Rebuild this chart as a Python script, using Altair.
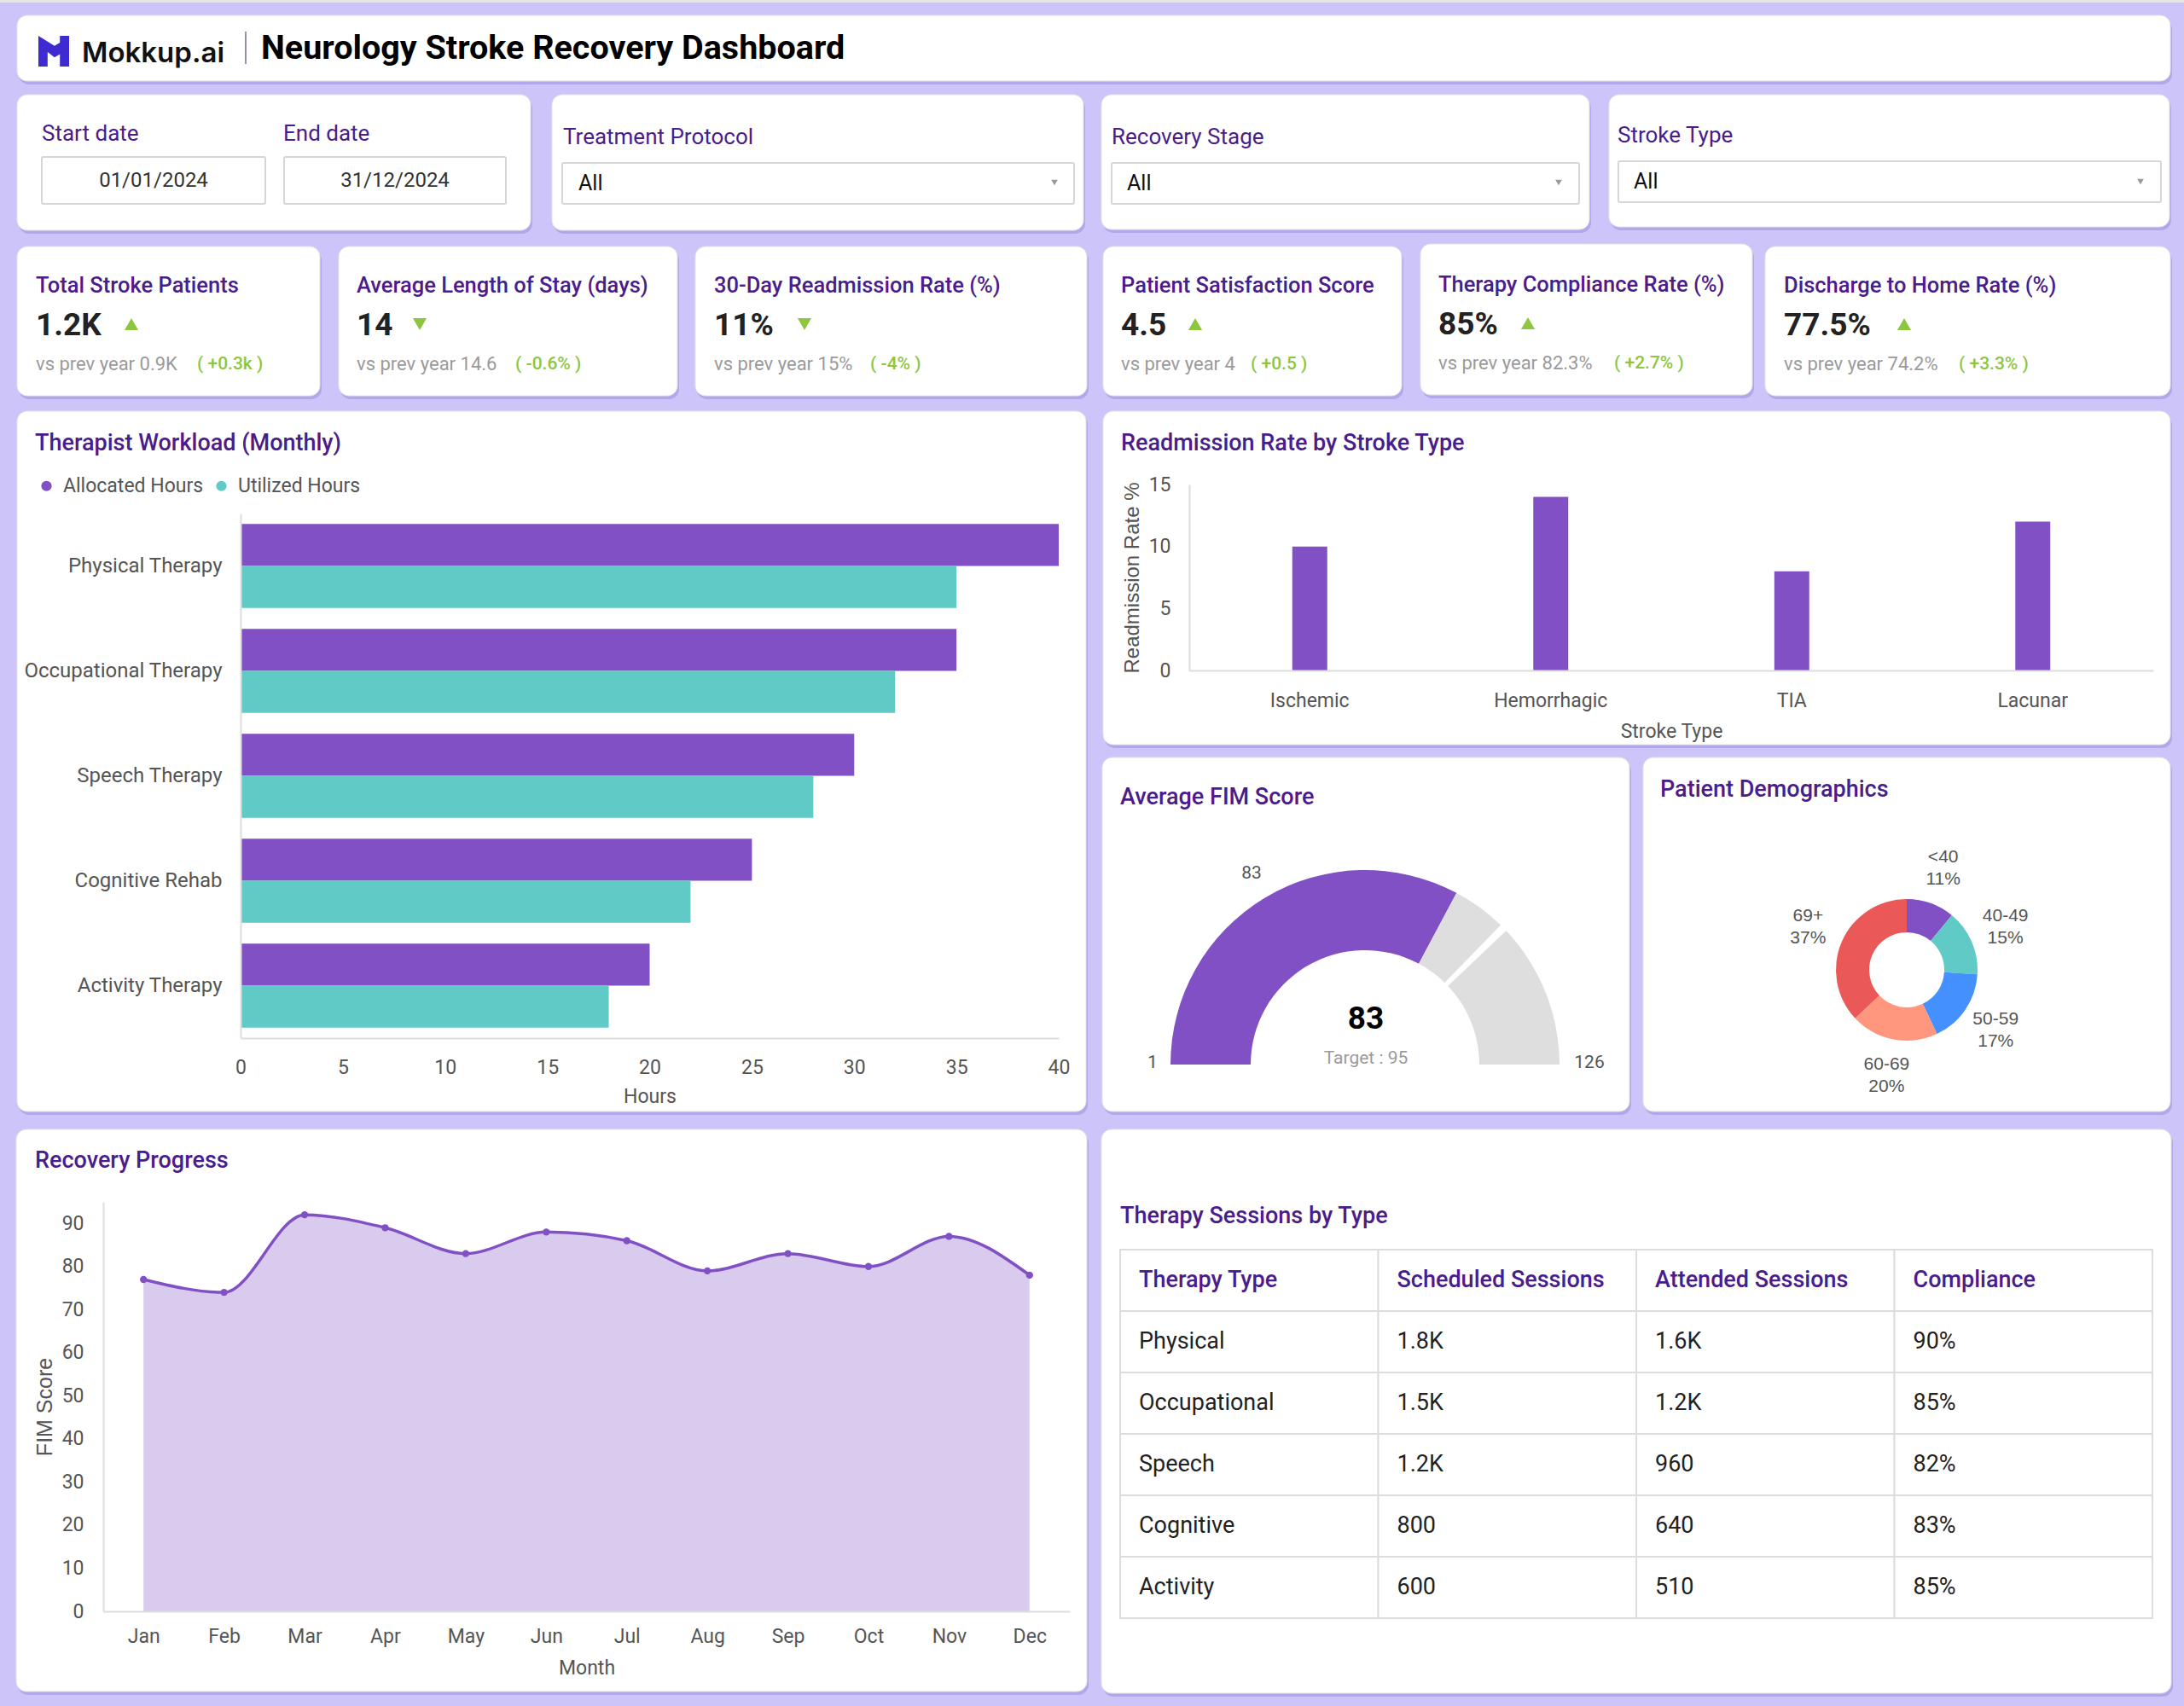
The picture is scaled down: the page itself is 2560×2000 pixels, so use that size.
import math
import altair as alt
import pandas as pd

# ------------------------------------------------------------------ data
brand_name = "Mokkup.ai"
dashboard_title = "Neurology Stroke Recovery Dashboard"

date_labels = ["Start date", "End date"]
date_values = ["01/01/2024", "31/12/2024"]
filter_labels = ["Treatment Protocol", "Recovery Stage", "Stroke Type"]
filter_values = ["All", "All", "All"]

kpi_titles = ["Total Stroke Patients", "Average Length of Stay (days)", "30-Day Readmission Rate (%)",
              "Patient Satisfaction Score", "Therapy Compliance Rate (%)", "Discharge to Home Rate (%)"]
kpi_values = ["1.2K", "14", "11%", "4.5", "85%", "77.5%"]
kpi_prev = ["0.9K", "14.6", "15%", "4", "82.3%", "74.2%"]
kpi_delta = ["+0.3k", "-0.6%", "-4%", "+0.5", "+2.7%", "+3.3%"]
kpi_trend = ["up", "down", "down", "up", "up", "up"]

panel_titles = ["Therapist Workload (Monthly)", "Readmission Rate by Stroke Type", "Average FIM Score",
                "Patient Demographics", "Recovery Progress", "Therapy Sessions by Type"]

therapies = ["Physical Therapy", "Occupational Therapy", "Speech Therapy", "Cognitive Rehab", "Activity Therapy"]
series_names = ["Allocated Hours", "Utilized Hours"]
allocated_hours = [40, 35, 30, 25, 20]
utilized_hours = [35, 32, 28, 22, 18]

stroke_types = ["Ischemic", "Hemorrhagic", "TIA", "Lacunar"]
readmission_rates = [10, 14, 8, 12]

fim_min, fim_value, fim_target, fim_max = 1, 83, 95, 126

age_groups = ["<40", "40-49", "50-59", "60-69", "69+"]
age_pcts = [11, 15, 17, 20, 37]

months = ["Jan", "Feb", "Mar", "Apr", "May", "Jun", "Jul", "Aug", "Sep", "Oct", "Nov", "Dec"]
fim_scores = [77, 74, 92, 89, 83, 88, 86, 79, 83, 80, 87, 78]

table_columns = ["Therapy Type", "Scheduled Sessions", "Attended Sessions", "Compliance"]
table_types = ["Physical", "Occupational", "Speech", "Cognitive", "Activity"]
table_scheduled = ["1.8K", "1.5K", "1.2K", "800", "600"]
table_attended = ["1.6K", "1.2K", "960", "640", "510"]
table_compliance = ["90%", "85%", "82%", "83%", "85%"]

# ------------------------------------------------------------------ layout / style
W, H = 2560, 2000
BG = "#CDC4FA"
PURPLE = "#8150C4"
TEAL = "#5FCAC6"
TITLE = "#4A1C8C"
AXIS = "#555555"
LINE = "#DDDDDD"
GREEN = "#8DC63F"
FONT = "Roboto"
ARIAL = "Liberation Sans"

cards = [(20, 18, 2544, 95), (20, 111, 622, 270), (647, 111, 1270, 270), (1291, 111, 1863, 269),
         (1886, 111, 2543, 266),
         (20, 289, 375, 464), (397, 289, 794, 464), (815, 289, 1274, 464), (1293, 289, 1643, 464),
         (1665, 286, 2054, 463), (2069, 289, 2544, 464),
         (20, 482, 1273, 1303), (1293, 482, 2544, 873), (1292, 888, 1910, 1303), (1926, 888, 2544, 1303),
         (19, 1324, 1274, 1983), (1291, 1324, 2545, 1985)]
input_boxes = [(49, 184, 311, 239), (333, 184, 593, 239), (659, 191, 1259, 239), (1303, 191, 1851, 239),
               (1897, 189, 2533, 237)]
date_label_xy = [(49, 157), (332, 157)]
date_value_xy = [(180, 212), (463, 212)]
filter_label_xy = [(660, 161), (1303, 161), (1896, 159)]
filter_value_xy = [(678, 215), (1321, 215), (1915, 213)]
arrow_xy = [(1236, 214), (1827, 214), (2509, 213)]

kpi_x = [42, 418, 837, 1314, 1686, 2091]
kpi_dy = [0, 0, 0, 0, -1, 0]
kpi_tri_x = [154, 492, 943, 1401, 1791, 2232]
kpi_delta_x = [231, 604, 1020, 1466, 1892, 2296]

panel_title_xy = [(41, 520), (1314, 520), (1313, 935), (1946, 926), (41, 1361), (1313, 1426)]


def rects(rows, **mark):
    df = pd.DataFrame(rows, columns=["x1", "y1", "x2", "y2"])
    return alt.Chart(df).mark_rect(**mark).encode(
        x=alt.X("x1:Q", scale=None, axis=None), x2="x2:Q",
        y=alt.Y("y1:Q", scale=None, axis=None), y2="y2:Q")


def texts(rows, size, color, weight="normal", font=FONT, align="left", baseline="middle", **kw):
    df = pd.DataFrame(rows, columns=["text", "x", "y"])
    return alt.Chart(df).mark_text(fontSize=size, color=color, fontWeight=weight, font=font,
                                   align=align, baseline=baseline, **kw).encode(
        x=alt.X("x:Q", scale=None, axis=None), y=alt.Y("y:Q", scale=None, axis=None), text="text:N")


def points(rows, **mark):
    df = pd.DataFrame(rows, columns=["x", "y"])
    return alt.Chart(df).mark_point(**mark).encode(
        x=alt.X("x:Q", scale=None, axis=None), y=alt.Y("y:Q", scale=None, axis=None))


AX = dict(labelFont=FONT, labelFontSize=23, labelColor=AXIS, titleFont=FONT, titleFontSize=23,
          titleColor=AXIS, titleFontWeight="normal", domainColor=LINE, domainWidth=2, ticks=False,
          grid=False, labelOverlap=False, labelFlush=False, zindex=2)

layers = []

# background strip, shadows and cards
layers.append(rects([(0, 0, W, 3)], fill="#E6E6E6"))
layers.append(rects([(a + 2, b + 4, c + 2, d + 4) for a, b, c, d in cards], fill="#B2A7EA", cornerRadius=12))
layers.append(rects(cards, fill="white", cornerRadius=12, stroke="#E4E4E4", strokeWidth=1))
layers.append(rects(input_boxes, fill="white", stroke="#D6D6D6", strokeWidth=2, cornerRadius=2))

# header
logo_path = ("M-1,-1 L0.05,-0.35 L0.4,-0.55 L0.4,-1 L1,-1 L1,1 L0.4,1 L0.4,0.2 "
             "L0.05,0.4 L-0.4,0.05 L-0.4,1 L-1,1 Z")
layers.append(points([(63, 60)], shape=logo_path, size=1300, filled=True, color="#3D2BD1", opacity=1))
layers.append(texts([(brand_name, 96, 73)], 33, "#111111", weight=600, font="Inter", baseline="alphabetic"))
layers.append(rects([(287, 37, 289, 75)], fill="#9A8FA6"))
layers.append(texts([(dashboard_title, 306, 69)], 39.5, "#000000", weight="bold", baseline="alphabetic"))

# filters
layers.append(texts([(t, x, y) for t, (x, y) in zip(date_labels, date_label_xy)] +
                    [(t, x, y) for t, (x, y) in zip(filter_labels, filter_label_xy)], 26, TITLE))
layers.append(texts([(t, x, y) for t, (x, y) in zip(date_values, date_value_xy)], 24, "#333333", align="center"))
layers.append(texts([(t, x, y) for t, (x, y) in zip(filter_values, filter_value_xy)], 25, "#111111"))
layers.append(points(arrow_xy, shape="triangle-down", size=60, filled=True, color="#9A9A9A", opacity=1))

# KPI cards
layers.append(texts([(t, x, 335 + d) for t, x, d in zip(kpi_titles, kpi_x, kpi_dy)], 25.5, TITLE, weight=500))
layers.append(texts([(t, x, 382 + d) for t, x, d in zip(kpi_values, kpi_x, kpi_dy)], 37, "#222222", weight="bold"))
layers.append(texts([("vs prev year " + t, x, 427 + d) for t, x, d in zip(kpi_prev, kpi_x, kpi_dy)], 22, "#9A9A9A"))
layers.append(texts([("( " + t + " )", x, 427 + d) for t, x, d in zip(kpi_delta, kpi_delta_x, kpi_dy)],
                    21, GREEN, weight=500))
tri_df = pd.DataFrame({"x": kpi_tri_x, "y": [380 + d for d in kpi_dy], "trend": kpi_trend})
layers.append(alt.Chart(tri_df).mark_point(filled=True, size=260, color=GREEN, opacity=1).encode(
    x=alt.X("x:Q", scale=None, axis=None), y=alt.Y("y:Q", scale=None, axis=None),
    shape=alt.Shape("trend:N", scale=alt.Scale(domain=["up", "down"], range=["triangle-up", "triangle-down"]),
                    legend=None)))

# panel titles
layers.append(texts([(t, x, y) for t, (x, y) in zip(panel_titles, panel_title_xy)], 27, TITLE, weight=500))

# ------------------------------------------------------------------ Therapist workload (grouped horizontal bars)
workload_df = pd.DataFrame({
    "therapy": therapies * 2,
    "series": [series_names[0]] * len(therapies) + [series_names[1]] * len(therapies),
    "hours": allocated_hours + utilized_hours,
})
layers.append(alt.Chart(workload_df).mark_bar().encode(
    x=alt.X("hours:Q", scale=alt.Scale(domain=[0, 40], range=[282, 1241], nice=False),
            axis=alt.Axis(orient="bottom", offset=-(H - 1217), values=list(range(0, 41, 5)),
                          title="Hours", labelPadding=23, titlePadding=11, **AX)),
    y=alt.Y("therapy:N", sort=therapies,
            scale=alt.Scale(range=[602, 1217], paddingInner=0.2, paddingOuter=0.1),
            axis=alt.Axis(orient="left", offset=-282, title=None, labelPadding=22, labelLimit=400,
                          **{**AX, "labelFontSize": 24})),
    yOffset=alt.YOffset("series:N", sort=series_names, scale=alt.Scale(paddingInner=0, paddingOuter=0)),
    color=alt.Color("series:N", sort=series_names,
                    scale=alt.Scale(domain=series_names, range=[PURPLE, TEAL]),
                    legend=alt.Legend(orient="none", legendX=43, legendY=558, direction="horizontal",
                                      title=None, symbolType="circle", symbolSize=150, symbolStrokeWidth=0,
                                      labelFont=FONT, labelFontSize=23, labelColor=AXIS, padding=0,
                                      labelOffset=8, columnPadding=9, labelLimit=400, zindex=2)),
))

# ------------------------------------------------------------------ Readmission rate by stroke type
readm_df = pd.DataFrame({"stroke": stroke_types, "rate": readmission_rates})
layers.append(alt.Chart(readm_df).mark_bar(color=PURPLE).encode(
    x=alt.X("stroke:N", sort=stroke_types,
            scale=alt.Scale(range=[1394, 2524], paddingInner=0.855, paddingOuter=0.4275),
            axis=alt.Axis(orient="bottom", offset=-(H - 786), title="Stroke Type", labelAngle=0,
                          labelPadding=24, titlePadding=13, **AX)),
    y=alt.Y("rate:Q", scale=alt.Scale(domain=[0, 15], range=[786, 568], nice=False),
            axis=alt.Axis(orient="left", offset=-1394, values=[0, 5, 10, 15], title="Readmission Rate %",
                          labelPadding=22, titlePadding=7,
                          **{**AX, "titleFont": ARIAL, "titleFontSize": 24})),
))

# ------------------------------------------------------------------ FIM gauge
gauge_df = pd.DataFrame({"part": ["value", "rest"], "start": [fim_min, fim_value], "end": [fim_value, fim_max]})
theta_scale = alt.Scale(domain=[fim_min, fim_max], range=[-math.pi / 2, math.pi / 2])
gauge_arcs = alt.Chart(gauge_df).mark_arc(innerRadius=134, outerRadius=228).encode(
    theta=alt.Theta("start:Q", scale=theta_scale, stack=None), theta2="end:Q",
    color=alt.Color("part:N", scale=alt.Scale(domain=["value", "rest"], range=[PURPLE, "#DEDEDE"]), legend=None),
    x=alt.value(1600), y=alt.value(1248))
target_df = pd.DataFrame({"target": [fim_target]})
gauge_target = alt.Chart(target_df).transform_calculate(
    t0="datum.target - 0.8", t1="datum.target + 0.8").mark_arc(
    innerRadius=128, outerRadius=234, color="white").encode(
    theta=alt.Theta("t0:Q", scale=theta_scale, stack=None), theta2="t1:Q",
    x=alt.value(1600), y=alt.value(1248))
layers.append(alt.layer(gauge_arcs, gauge_target))
layers.append(texts([(str(fim_value), 1467, 1024), (str(fim_min), 1351, 1246), (str(fim_max), 1863, 1246)],
                    21, AXIS, align="center"))
layers.append(texts([(str(fim_value), 1601, 1195)], 37, "#000000", weight="bold", align="center"))
layers.append(texts([("Target : " + str(fim_target), 1601, 1241)], 21, "#9A9A9A", align="center"))

# ------------------------------------------------------------------ Patient demographics donut
demo_df = pd.DataFrame({"age": age_groups, "pct": age_pcts})
demo_base = alt.Chart(demo_df).transform_window(idx="row_number()").transform_calculate(
    label="datum.age + '\\n' + datum.pct + '%'").encode(
    theta=alt.Theta("pct:Q", stack=True), order=alt.Order("idx:Q"),
    x=alt.value(2235), y=alt.value(1137))
donut = demo_base.mark_arc(innerRadius=44, outerRadius=83).encode(
    color=alt.Color("age:N", scale=alt.Scale(domain=age_groups,
                                             range=[PURPLE, TEAL, "#4490FF", "#FF967D", "#EA5858"]),
                    legend=None))
donut_labels = demo_base.mark_text(radius=126, fontSize=21, font=ARIAL, color=AXIS, lineBreak="\n",
                                   lineHeight=26, align="center", baseline="middle", dy=-13).encode(text="label:N")
layers.append(alt.layer(donut, donut_labels))

# ------------------------------------------------------------------ Recovery progress (area + line)
rec_df = pd.DataFrame({"month": months, "score": fim_scores})
rec_base = alt.Chart(rec_df).encode(
    x=alt.X("month:O", sort=months, scale=alt.Scale(type="point", range=[121, 1254], padding=0.5),
            axis=alt.Axis(orient="bottom", offset=-(H - 1889), title="Month", labelAngle=0,
                          labelPadding=18, titlePadding=14, **AX)),
    y=alt.Y("score:Q", scale=alt.Scale(domain=[0, 95], range=[1889, 1409], nice=False),
            axis=alt.Axis(orient="left", offset=-121, values=list(range(0, 91, 10)), title="FIM Score",
                          labelPadding=23, titlePadding=7,
                          **{**AX, "titleFont": ARIAL, "titleFontSize": 25})),
)
layers.append(alt.layer(
    rec_base.mark_area(color="#D9CBEE", opacity=1, interpolate="monotone"),
    rec_base.mark_line(color=PURPLE, strokeWidth=3.5, interpolate="monotone"),
    rec_base.mark_point(filled=True, size=70, color=PURPLE, opacity=1),
))

# ------------------------------------------------------------------ Therapy sessions table
table_rows = [table_columns] + [list(r) for r in zip(table_types, table_scheduled, table_attended,
                                                     table_compliance)]
cells_df = pd.DataFrame([{"row": i, "col": c, "text": v, "kind": "head" if i == 0 else "body"}
                         for i, r in enumerate(table_rows) for c, v in zip(table_columns, r)])
tx_scale = alt.Scale(type="band", range=[1313, 2523], paddingInner=0, paddingOuter=0)
ty_scale = alt.Scale(type="band", range=[1465, 1897], paddingInner=0, paddingOuter=0)
t_base = alt.Chart(cells_df)
t_cells = t_base.mark_rect(fill="white", stroke=LINE, strokeWidth=2).encode(
    x=alt.X("col:N", sort=table_columns, scale=tx_scale, axis=None),
    y=alt.Y("row:O", scale=ty_scale, axis=None))
t_enc = dict(x=alt.X("col:N", sort=table_columns, scale=tx_scale, axis=None, bandPosition=0),
             y=alt.Y("row:O", scale=ty_scale, axis=None), text="text:N")
t_head = t_base.transform_filter("datum.kind == 'head'").mark_text(
    align="left", dx=22, fontSize=27, fontWeight=500, font=FONT, color=TITLE).encode(**t_enc)
t_body = t_base.transform_filter("datum.kind == 'body'").mark_text(
    align="left", dx=22, fontSize=27, font=FONT, color="#222222").encode(**t_enc)
layers.append(alt.layer(t_cells, t_head, t_body))

# ------------------------------------------------------------------ assemble
chart = alt.layer(*layers).resolve_scale(
    x="independent", y="independent", color="independent", theta="independent",
    shape="independent", yOffset="independent",
).resolve_axis(x="independent", y="independent").resolve_legend(color="independent").properties(
    width=W, height=H, autosize=alt.AutoSizeParams(type="none"), padding=0, background=BG,
).configure_view(stroke=None)

chart.save("out.html", embed_options={"renderer": "svg", "actions": False})
